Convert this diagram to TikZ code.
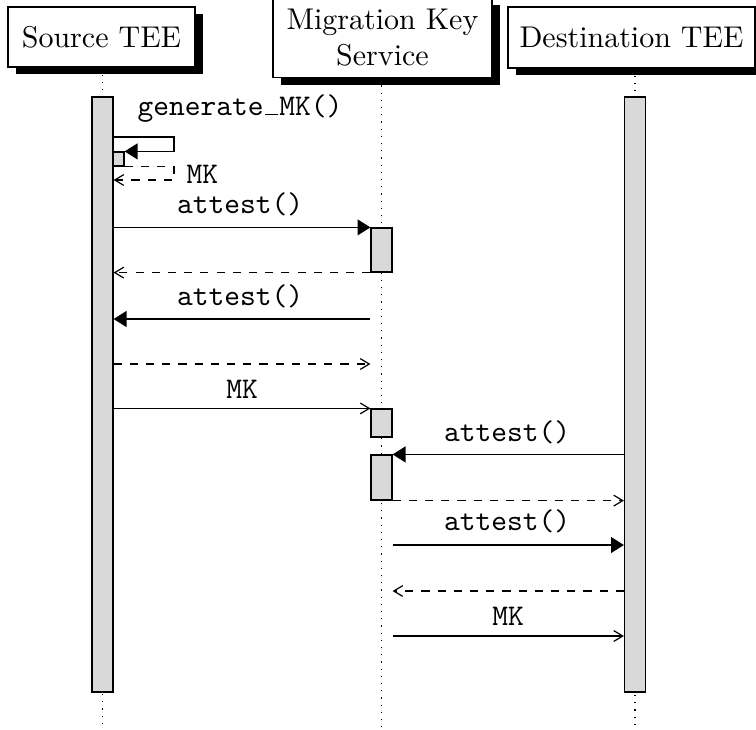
\documentclass[tikz,border=0pt]{standalone}
\usetikzlibrary{arrows.meta,shadows}
\newcommand{\lowbar}{\kern0.5pt\rule{4.3pt}{0.45pt}\kern0.45pt}
\begin{document}
\begin{tikzpicture}[x=0.33333pt,y=-0.33333pt,
  thread/.style={draw, fill=white, inner sep=0pt, align=center,
    drop shadow={shadow xshift=2.6pt, shadow yshift=-2.4pt, fill=black, opacity=1}},
  actbar/.style={draw, fill=black!15, inner sep=0pt, minimum width=7pt},
  life/.style={dotted},
  callmsg/.style={-{Triangle[length=4.3pt,width=5.3pt]}},
  replymsg/.style={dash pattern=on 2.7pt off 2.7pt, -{Straight Barb[length=3pt,width=3.6pt]}},
  datamsg/.style={-{Straight Barb[length=3pt,width=3.6pt]}},
  msglabel/.style={anchor=base, inner sep=0pt, font=\ttfamily}]
\useasboundingbox (0,0) rectangle (756,729);

% participants
\node[thread, minimum width=62.3pt, minimum height=20pt] (src) at (101.5,37) {Source TEE};
\node[thread, minimum width=73pt, minimum height=26.7pt] (mks) at (382.5,37.5) {Migration Key\\Service};
\node[thread, minimum width=82.3pt, minimum height=20.3pt] (dst) at (631.5,37.5) {Destination TEE};

% lifelines
\coordinate (floor) at (0,729);
\coordinate (srcx) at (102.5,0);
\coordinate (mksx) at (381.5,0);
\coordinate (dstx) at (635,0);
\draw[life] (srcx |- src.south) -- (srcx |- floor);
\draw[life] (mksx |- mks.south) -- (mksx |- floor);
\draw[life] (dstx |- dst.south) -- (dstx |- floor);

% activation bars
\node[actbar, minimum height=198.33pt] (sbar) at (102.5,394.5) {};
\node[actbar, minimum height=198.33pt] (dbar) at (635,394.5) {};
\node[actbar, minimum width=3.67pt, minimum height=4.67pt] (sself) at (118.5,159) {};
\node[actbar, minimum height=14.67pt] (mk1) at (381.5,250) {};
\node[actbar, minimum height=9.33pt] (mk2) at (381.5,423) {};
\node[actbar, minimum height=15pt] (mk3) at (381.5,477.5) {};

% message rows
\coordinate (r1) at (0,137);
\coordinate (r2) at (0,180);
\coordinate (r3) at (0,319);
\coordinate (r4) at (0,364);
\coordinate (r5) at (0,545);
\coordinate (r6) at (0,591);
\coordinate (r7) at (0,636);
\coordinate (turn) at (174,0);

% self call: generate_MK()
\draw[callmsg] (sbar.east |- r1) -- (turn |- r1) -- (turn |- sself.north) -- (sself.north east);
\draw[replymsg] (sself.south east) -- (turn |- sself.south) -- (turn |- r2) -- (sbar.east |- r2);
\node[msglabel] (lgen) at (240,115) {generate\lowbar MK()};
\node[msglabel, anchor=base west] (lmk0) at (186,183) {MK};

% source <-> key service
\draw[callmsg] (sbar.east |- mk1.north) -- (mk1.north west);
\node[msglabel] (la1) at (240,213) {attest()};
\draw[replymsg] (mk1.south west) -- (sbar.east |- mk1.south);
\draw[callmsg] (mk1.west |- r3) -- (sbar.east |- r3);
\node[msglabel] (la2) at (240,305) {attest()};
\draw[replymsg] (sbar.east |- r4) -- (mk1.west |- r4);
\draw[datamsg] (sbar.east |- mk2.north) -- (mk2.north west);
\node[msglabel] (lmk1) at (242,398) {MK};

% key service <-> destination
\draw[callmsg] (dbar.west |- mk3.north) -- (mk3.north east);
\node[msglabel] (la3) at (507,441) {attest()};
\draw[replymsg] (mk3.south east) -- (dbar.west |- mk3.south);
\draw[callmsg] (mk3.east |- r5) -- (dbar.west |- r5);
\node[msglabel] (la4) at (507,530) {attest()};
\draw[replymsg] (dbar.west |- r6) -- (mk3.east |- r6);
\draw[datamsg] (mk3.east |- r7) -- (dbar.west |- r7);
\node[msglabel] (lmk2) at (508,625) {MK};
\end{tikzpicture}
\end{document}
